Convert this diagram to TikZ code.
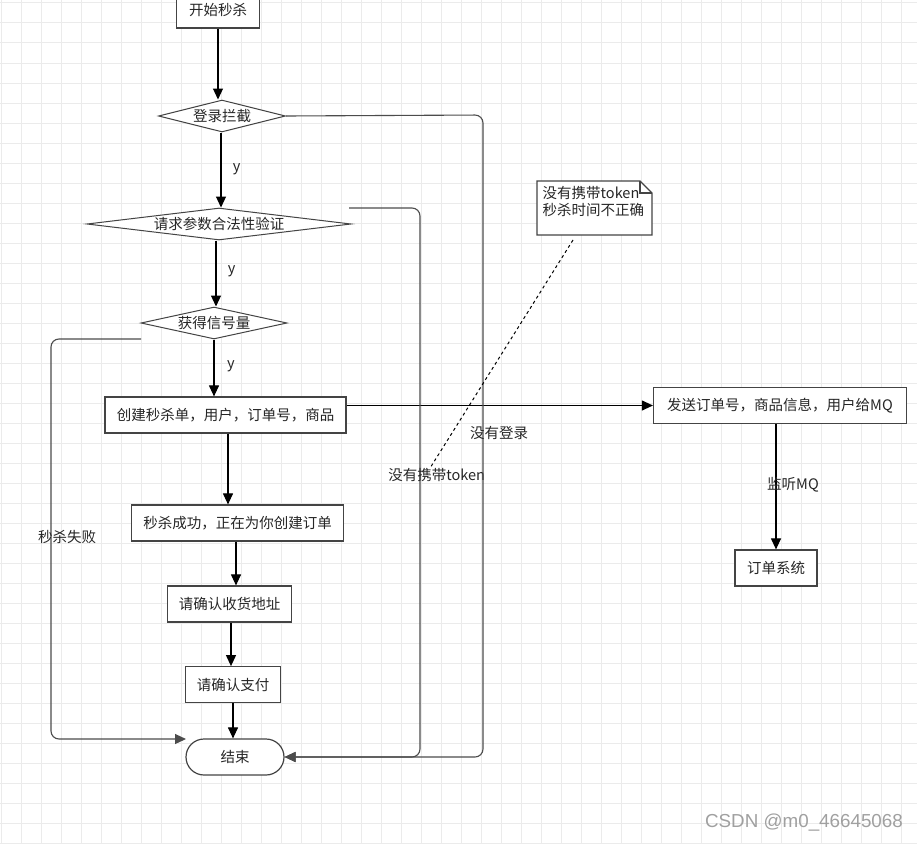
\documentclass[tikz,border=0pt]{standalone}
\usepackage{fontspec}
\setmainfont{Noto Sans CJK SC}
\newfontfamily\wmfont{Liberation Sans}
\usetikzlibrary{shapes.geometric,arrows.meta}
\definecolor{gridc}{HTML}{EBEBEB}
\definecolor{linec}{HTML}{444444}
\definecolor{wmc}{HTML}{A0A0A0}
\tikzset{
  base/.style={font=\fontsize{14.5}{17}\selectfont, text=black!85},
  proc/.style={base, draw=linec, line width=1.2pt, fill=white, inner sep=0pt, minimum height=36pt},
  term/.style={proc, rounded corners=18pt},
  dia/.style={shape=diamond, draw=linec, line width=1pt, fill=white, inner sep=0pt},
  lbl/.style={base, inner sep=0pt},
  arr/.style={draw=black, line width=1.1pt, -{Triangle[length=11pt,width=10pt]}},
  conn/.style={draw=black!70, line width=1.1pt, rounded corners=8pt},
  connarr/.style={conn, -{Triangle[length=11pt,width=10pt]}},
}
\begin{document}
\begin{tikzpicture}[x=1pt,y=-1pt]
\useasboundingbox (0,0) rectangle (917,843);
\fill[white] (0,0) rectangle (917,843);
\foreach \gx in {1,21,...,917} \draw[gridc, line width=1pt] (\gx,0) -- (\gx,843);
\foreach \gy in {3,23,...,843} \draw[gridc, line width=1pt] (0,\gy) -- (917,\gy);

% nodes
\node[proc, minimum width=83pt] (start) at (218,10) {开始秒杀};
\node[dia, minimum width=127pt, minimum height=32pt] (d1) at (222,116) {};
\node[lbl] (t1) at (d1) {登录拦截};
\node[dia, minimum width=264pt, minimum height=32pt] (d2) at (219,224) {};
\node[lbl] (t2) at (d2) {请求参数合法性验证};
\node[dia, minimum width=146pt, minimum height=32pt] (d3) at (214,323) {};
\node[lbl] (t3) at (d3) {获得信号量};
\node[proc, minimum width=241pt] (b1) at (225.5,415) {创建秒杀单，用户，订单号，商品};
\node[proc, minimum width=212pt] (b2) at (237.7,523) {秒杀成功，正在为你创建订单};
\node[proc, minimum width=124pt] (b3) at (229.7,604) {请确认收货地址};
\node[proc, minimum width=95pt] (b4) at (233,684.7) {请确认支付};
\node[term, minimum width=98pt] (end) at (235,757) {结束};
\node[proc, minimum width=253pt] (mq) at (780,405.5) {发送订单号，商品信息，用户给MQ};
\node[proc, minimum width=82pt] (os) at (776,568) {订单系统};

% main flow
\draw[arr] (start.south) -- (start.south |- d1.north);
\draw[arr] (d1.south -| 221,0) -- (221,0 |- d2.north);
\draw[arr] (d2.south -| 216,0) -- (216,0 |- d3.north);
\draw[arr] (d3.south) -- (d3.south |- b1.north);
\draw[arr] (b1.south -| 228,0) -- (228,0 |- b2.north);
\draw[arr] (b2.south -| 236,0) -- (236,0 |- b3.north);
\draw[arr] (b3.south -| 231,0) -- (231,0 |- b4.north);
\draw[arr] (b4.south) -- (b4.south |- end.north);
\draw[arr] (mq.west -| b1.east) -- (mq.west);
\draw[arr] (os.north |- mq.south) -- (os.north);

\node[lbl] (y1) at (236.7,169) {y};
\node[lbl] (y2) at (231.7,271.7) {y};
\node[lbl] (y3) at (231,366) {y};
\node[lbl] (lmq) at (793,485) {监听MQ};

% loops
\coordinate (f0) at (141,339);
\coordinate (f1) at (186,739);
\draw[connarr] (f0) -- (51,339) -- (51,739) -- (f1);
\node[lbl] (lfail) at (67,537) {秒杀失败};

\coordinate (p0) at (349,208);
\draw[connarr] (p0) -- (420,208) -- (420,757) -- (end.east);
\node[lbl] (ltok) at (436.7,475) {没有携带token};

\draw[connarr] (d1.east) -- (483,115) -- (483,757) -- (end.east);
\node[lbl] (llog) at (499,433) {没有登录};

% note
\draw[linec, line width=1.1pt, fill=white] (537,181) -- (640,181) -- (652,193) -- (652,235) -- (537,235) -- cycle;
\draw[linec, line width=1.1pt] (640,181) -- (640,193) -- (652,193);
\node[lbl, anchor=west] (n1) at (542.5,193) {没有携带token};
\node[lbl, anchor=west] (n2) at (542.5,210) {秒杀时间不正确};
\coordinate (nb) at (573,240);
\draw[black, line width=1pt, dash pattern=on 3pt off 3pt] (nb) -- (ltok.north -| 430,0);

% watermark
\node[font=\wmfont\fontsize{18.8}{22}\selectfont, text=wmc, inner sep=0pt] (wm) at (804,823) {CSDN @m0\_46645068};
\end{tikzpicture}
\end{document}
